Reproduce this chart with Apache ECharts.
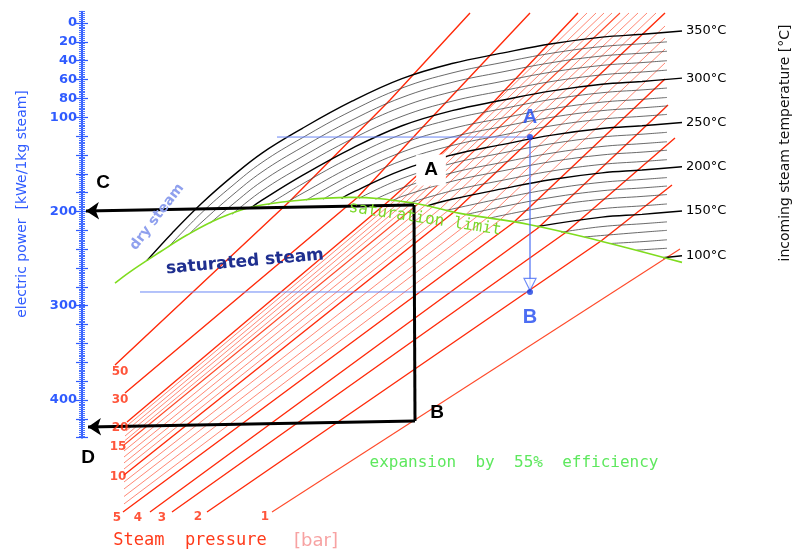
<!DOCTYPE html>
<html>
<head>
<meta charset="utf-8">
<script src="https://cdn.jsdelivr.net/npm/echarts@6/dist/echarts.min.js"></script>
<style>
  html, body { margin: 0; padding: 0; background: #fff; }
  #main { width: 795px; height: 552px; }
</style>
</head>
<body>
<div id="main"></div>
<script>
// power axis (kWe per 1 kg steam), labelled values
var powerLabels = [0, 20, 40, 60, 80, 100, 200, 300, 400];

// points are [entropy (arbitrary, hidden axis), electric power kWe]
// incoming steam temperature lines
var temps = [350, 340, 330, 320, 310, 300, 290, 280, 270, 260, 250, 240, 230, 220, 210, 200, 190, 180, 170, 160, 150, 140, 130, 120, 110, 100];
var tempLines = [
    [[13,252],[18,223],[24,191],[30,163],[36,138],[44,112],[54,83],[64,59],[74,43],[84,32],[94,22],[104,15],[112,12],[120,8.5]],
    [[17.2,238],[24,201],[30,173],[36,148],[44,122],[54,93],[64,69],[74,53],[84,42],[94,32],[104,25],[112,22],[117,20]],
    [[21.4,224],[24,211],[30,183],[36,158],[44,132],[54,103],[64,79],[74,63],[84,52],[94,42],[104,35],[112,32],[117,30]],
    [[25.7,212],[30,193],[36,168],[44,142],[54,113],[64,89],[74,73],[84,62],[94,52],[104,45],[112,42],[117,40]],
    [[30,203],[36,178],[44,152],[54,123],[64,99],[74,83],[84,72],[94,62],[104,55],[112,52],[117,50]],
    [[33.8,196],[36,188],[44,162],[54,133],[64,109],[74,93],[84,82],[94,72],[104,65],[112,62],[120,58.5]],
    [[37.2,193],[44,171],[54,142],[64,118],[74,102],[84,91],[94,81],[104,74],[112,71],[117,69]],
    [[41,190],[44,181],[54,152],[64,128],[74,112],[84,101],[94,91],[104,84],[112,81],[117,79]],
    [[44.8,188],[54,161],[64,137],[74,121],[84,110],[94,100],[104,93],[112,90],[117,88]],
    [[48.2,187],[54,170],[64,146],[74,130],[84,119],[94,109],[104,102],[112,99],[117,97]],
    [[51.9,186],[54,180],[64,156],[74,140],[84,129],[94,119],[104,112],[112,109],[120,105.5]],
    [[55.4,186],[64,165],[74,149],[84,138],[94,128],[104,121],[112,118],[117,116]],
    [[58.7,187],[64,175],[74,159],[84,148],[94,138],[104,131],[112,128],[117,126]],
    [[61.9,189],[64,184],[74,168],[84,157],[94,147],[104,140],[112,137],[117,135]],
    [[65.5,191],[74,178],[84,167],[94,157],[104,150],[112,147],[117,145]],
    [[69,194],[74,187],[84,176],[94,166],[104,159],[112,156],[120,152.5]],
    [[72.7,199],[84,186],[94,176],[104,169],[112,166],[117,164]],
    [[77,203],[84,195],[94,185],[104,178],[112,175],[117,173]],
    [[81.5,207],[94,194],[104,187],[112,184],[117,182]],
    [[86.3,211],[94,204],[104,197],[112,194],[117,192]],
    [[91,216],[104,206],[112,203],[120,199.5]],
    [[95.8,222],[104,216],[112,213],[117,211]],
    [[100.5,227],[112,222],[117,220]],
    [[105.5,234],[112,232],[117,230]],
    [[110.9,241],[117,239]],
    [[116.2,249],[120,247]]
];

// steam pressure lines [bar]
var pressures = [50, 30, 20, 19, 18, 17, 16, 15, 14, 13, 12, 11, 10, 9, 8, 7, 6, 5, 4, 3, 2, 1];
var pressureMain = [50, 30, 20, 10, 5, 4, 3, 2];
var pressureLines = [
    [[6.6,362.9],[41.6,188.9],[61.6,81.7],[77.6,-10.6]],
    [[8.6,392.6],[55.2,184.6],[67.6,113.5],[89.6,-10.6]],
    [[9,423.3],[61.6,187.8],[77,113.5],[99.2,-10.6]],
    [[8.8,428.2],[62.6,188.3],[101,-10.6]],
    [[8.8,432.9],[63.8,188.9],[102.8,-10.6]],
    [[8.6,438.2],[64.8,189.9],[104.4,-10.6]],
    [[8.6,443],[66,191],[106,-10.6]],
    [[8.4,447.7],[67.2,192],[107.6,-10.6]],
    [[8.4,454.1],[68.6,193.6],[109.4,-10.6]],
    [[8.4,460.5],[70,195.6],[111.2,-10.6]],
    [[8.4,466.8],[71.6,197.3],[113,-10.6]],
    [[8.4,473.2],[73.2,199.1],[114.8,-10.6]],
    [[8.4,479.6],[74.4,200.5],[116.6,-10.6]],
    [[8.4,487],[76.8,203.2],[116.6,3.2]],
    [[8.4,494.4],[79,205.3],[116.6,15.9]],
    [[8.4,502.4],[81,206.9],[116.6,27.6]],
    [[8.4,510.3],[83.6,209],[116.6,42.4]],
    [[8.2,518.8],[86.2,212.2],[116.6,59.4]],
    [[13.6,518.8],[91.2,217.5],[117.2,87]],
    [[18,518.8],[96.6,222.8],[118.6,122]],
    [[25,518.8],[103.8,231.3],[118,171.9]],
    [[38,518.8],[119.6,239.8]]
];
var pressureTags = ['50', '30', '20', '15', '10', '5', '4', '3', '2', '1'];

// saturation limit
var saturation = [[6.6,276],[9.6,264],[15.6,243],[21,225],[27.6,207],[34.2,195],[43.6,188],[53.6,185],[66.2,191],[75.6,202],[89.6,214],[104.2,232],[120,254]];

// expansion example A -> B (blue) and read-out C / D (black)
var pointA = [89.6, 121];
var pointB = [89.6, 285.4];
var cornerTop = [66.4, 193.1];
var cornerBottom = [66.6, 422.3];
var readC = [0.8, 199.5];
var readD = [1.2, 428.6];

var blue = '#2f5bff';
var tagAt = [[7.6,370.3],[7.6,400],[7.6,429.7],[7.2,449.9],[7.2,481.7],[7,525.2],[11.2,525.2],[16,525.2],[23.2,524.1],[36.6,524.1]];

var series = [];
pressures.forEach(function (p, i) {
    var main = pressureMain.indexOf(p) >= 0;
    var mid = (p === 15 || p === 1);
    series.push({
        type: 'line', xAxisIndex: 2, yAxisIndex: 4, data: pressureLines[i],
        symbol: 'none', silent: true, clip: false, z: 2,
        lineStyle: { color: main ? '#ff2a0a' : (mid ? '#ff4a2a' : '#ff6a52'), width: main ? 1.4 : (mid ? 1.1 : 0.8) }
    });
});
temps.forEach(function (t, i) {
    var main = t % 50 === 0;
    series.push({
        type: 'line', xAxisIndex: 2, yAxisIndex: 4, data: tempLines[i],
        symbol: 'none', smooth: 0.4, silent: true, clip: false, z: 3,
        lineStyle: { color: main ? '#000' : '#444', width: main ? 1.4 : 0.8 },
        endLabel: { show: main, formatter: t + '°C', color: '#000', fontSize: 13, fontFamily: 'DejaVu Sans', distance: 4 }
    });
});
series.push({
    type: 'line', xAxisIndex: 2, yAxisIndex: 4, data: saturation,
    symbol: 'none', smooth: 0.4, silent: true, clip: false, z: 4,
    lineStyle: { color: '#7fdc1e', width: 1.6 }
});
// pressure tags
series.push({
    type: 'scatter', xAxisIndex: 2, yAxisIndex: 4, symbolSize: 0, silent: true, z: 6,
    data: tagAt.map(function (c, i) { return { name: pressureTags[i], value: c }; }),
    label: { show: true, position: 'inside', formatter: '{b}', color: '#ff2a0a', fontSize: 12, fontWeight: 'bold', fontFamily: 'DejaVu Sans' }
});
// blue construction
series.push({
    type: 'line', xAxisIndex: 2, yAxisIndex: 4, symbol: 'none', silent: true, z: 5,
    data: [[39, pointA[1]], pointA], lineStyle: { color: '#6a86f5', width: 1 }
});
series.push({
    type: 'line', xAxisIndex: 2, yAxisIndex: 4, symbol: 'none', silent: true, z: 5,
    data: [[11.6, pointB[1]], pointB], lineStyle: { color: '#6a86f5', width: 1 }
});
series.push({
    type: 'line', xAxisIndex: 2, yAxisIndex: 4, symbol: 'none', silent: true, z: 5,
    data: [pointA, pointB], lineStyle: { color: '#4a6ef5', width: 1.2 }
});
series.push({
    type: 'scatter', xAxisIndex: 2, yAxisIndex: 4, silent: true, z: 6,
    symbol: 'triangle', symbolRotate: 180, symbolSize: [12, 12],
    itemStyle: { color: '#fff', borderColor: '#4a6ef5', borderWidth: 1.2 },
    data: [[pointB[0], pointB[1] - 8]]
});
series.push({
    type: 'scatter', xAxisIndex: 2, yAxisIndex: 4, silent: true, z: 7,
    symbol: 'circle', symbolSize: 6, itemStyle: { color: '#1a3fe0' },
    data: [
        { value: pointA, label: { show: true, formatter: 'A', position: 'top', distance: 7 } },
        { value: pointB, label: { show: true, formatter: 'B', position: 'bottom', distance: 12 } }
    ],
    label: { color: '#1f48f0', fontSize: 20, fontWeight: 'bold', fontFamily: 'Liberation Sans' }
});
// black read-out path
series.push({
    type: 'line', xAxisIndex: 2, yAxisIndex: 4, symbol: 'none', silent: true, z: 5,
    data: [cornerTop, cornerBottom], lineStyle: { color: '#000', width: 3 }
});
series.push({
    type: 'lines', coordinateSystem: 'cartesian2d', xAxisIndex: 2, yAxisIndex: 4, silent: true, z: 5,
    symbol: ['none', 'arrow'], symbolSize: 13,
    lineStyle: { color: '#000', width: 3, opacity: 1, curveness: 0 },
    data: [{ coords: [cornerTop, readC] }, { coords: [cornerBottom, readD] }]
});

var grid = { left: 82, right: 113 };
var option = {
    animation: false,
    backgroundColor: '#fff',
    textStyle: { fontFamily: 'DejaVu Sans' },
    grid: [
        { left: grid.left, right: grid.right, top: 11.69, bottom: 114.3 },
        { left: grid.left, right: grid.right, top: 23, bottom: 114.3 },
        { left: grid.left, right: grid.right, top: 11.69, bottom: 20.05 },
        { left: grid.left, right: grid.right, top: 11.69, bottom: 114.3 }
    ],
    xAxis: [
        { gridIndex: 0, type: 'value', show: false, min: 0, max: 1 },
        { gridIndex: 1, type: 'value', show: false, min: 0, max: 1 },
        { gridIndex: 2, type: 'value', show: false, min: 0, max: 120 },
        { gridIndex: 3, type: 'value', show: false, min: 0, max: 1 }
    ],
    yAxis: [
        {
            gridIndex: 0, type: 'value', position: 'left', min: -12, max: 440, inverse: true,
            axisLine: { show: true, lineStyle: { color: blue, width: 2 } },
            axisTick: { show: false }, axisLabel: { show: false }, splitLine: { show: false }
        },
        {
            gridIndex: 3, type: 'value', position: 'left', min: -12, max: 440, interval: 2, inverse: true, offset: -3,
            axisLine: { show: false },
            axisTick: { show: true, length: 6, lineStyle: { color: '#4a72ff', width: 1 } },
            axisLabel: { show: false }, splitLine: { show: false }
        },
        {
            gridIndex: 1, type: 'value', position: 'left', min: 0, max: 440, interval: 20, inverse: true, offset: -6,
            axisLine: { show: false },
            axisTick: { show: true, length: 12, lineStyle: { color: blue, width: 1.2 } },
            axisLabel: {
                show: true, margin: 11, color: blue, fontSize: 13, fontWeight: 'bold', fontFamily: 'DejaVu Sans',
                formatter: function (v) { return powerLabels.indexOf(v) >= 0 ? String(v) : ''; }
            },
            splitLine: { show: false }
        },
        { gridIndex: 2, type: 'value', min: 0, max: 1, show: false },
        { gridIndex: 2, type: 'value', position: 'left', min: -12, max: 540, inverse: true, show: false }
    ],
    graphic: [
        { type: 'text', x: 22, y: 204, rotation: Math.PI / 2, silent: true,
          style: { text: 'electric power  [kWe/1kg steam]', fill: blue, font: '14px DejaVu Sans', align: 'center', verticalAlign: 'middle' } },
        { type: 'text', x: 785, y: 143, rotation: Math.PI / 2, silent: true,
          style: { text: 'incoming steam temperature [°C]', fill: '#111', font: '14px DejaVu Sans', align: 'center', verticalAlign: 'middle' } },
        { type: 'text', x: 157, y: 217, rotation: 0.92, silent: true, z: 10,
          style: { text: 'dry steam', fill: '#8fa0ee', font: 'bold 14px DejaVu Sans', align: 'center', verticalAlign: 'middle' } },
        { type: 'text', x: 245, y: 262, rotation: 0.09, silent: true, z: 10,
          style: { text: 'saturated steam', fill: '#1f2f8f', font: 'bold 17px DejaVu Sans', align: 'center', verticalAlign: 'middle' } },
        { type: 'text', x: 425, y: 219, rotation: -0.15, silent: true, z: 10,
          style: { text: 'saturation limit', fill: '#7ad82a', font: '16px DejaVu Sans Mono', align: 'center', verticalAlign: 'middle' } },
        { type: 'text', x: 514, y: 463, silent: true, z: 10,
          style: { text: 'expansion  by  55%  efficiency', fill: '#5ee85e', font: '16px DejaVu Sans Mono', align: 'center', verticalAlign: 'middle' } },
        { type: 'text', x: 190, y: 541, silent: true, z: 10,
          style: { text: 'Steam  pressure', fill: '#ff3a1a', font: '17px DejaVu Sans Mono', align: 'center', verticalAlign: 'middle' } },
        { type: 'text', x: 316, y: 541, silent: true, z: 10,
          style: { text: '[bar]', fill: '#f7a2a2', font: '18px DejaVu Sans', align: 'center', verticalAlign: 'middle' } },
        { type: 'text', x: 103, y: 183, silent: true, z: 10,
          style: { text: 'C', fill: '#000', font: 'bold 19px Liberation Sans', align: 'center', verticalAlign: 'middle' } },
        { type: 'text', x: 88, y: 458, silent: true, z: 10,
          style: { text: 'D', fill: '#000', font: 'bold 19px Liberation Sans', align: 'center', verticalAlign: 'middle' } },
        { type: 'text', x: 431, y: 170, silent: true, z: 10,
          style: { text: 'A', fill: '#000', font: 'bold 19px Liberation Sans', align: 'center', verticalAlign: 'middle', backgroundColor: '#fff', padding: [6, 8] } },
        { type: 'text', x: 437, y: 413, silent: true, z: 10,
          style: { text: 'B', fill: '#000', font: 'bold 19px Liberation Sans', align: 'center', verticalAlign: 'middle' } }
    ],
    series: series
};

var myChart = echarts.init(document.getElementById('main'));
myChart.setOption(option);
</script>
</body>
</html>
